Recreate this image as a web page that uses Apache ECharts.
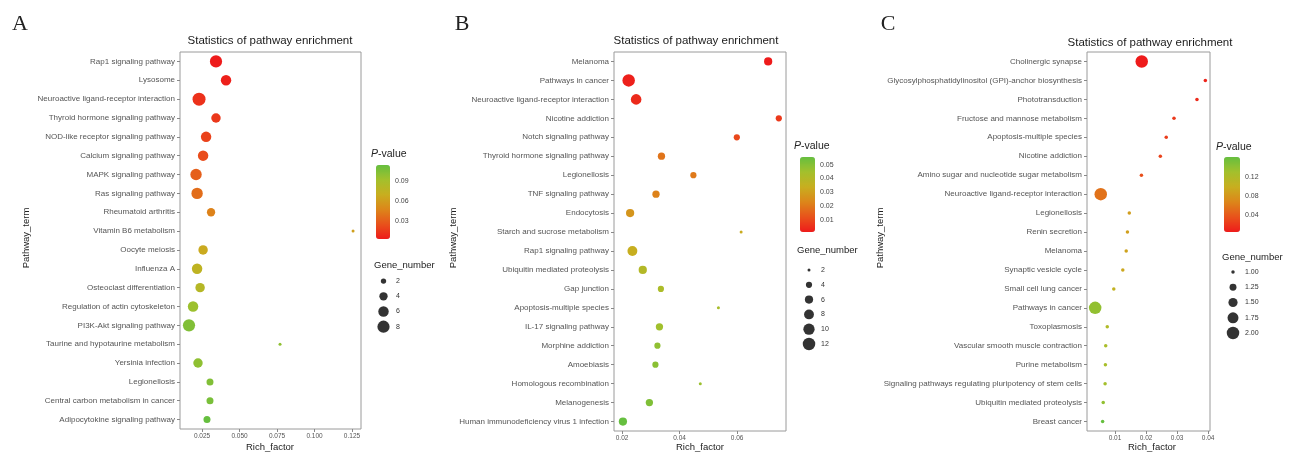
<!DOCTYPE html>
<html><head><meta charset="utf-8">
<script src="https://cdn.jsdelivr.net/npm/echarts@6/dist/echarts.min.js"></script>
<style>html,body{margin:0;padding:0;background:#fff}#c{width:1291px;height:453px}</style>
</head><body><div id="c"></div>
<script>
// ---------- DATA ----------
const termsA = ['Rap1 signaling pathway','Lysosome','Neuroactive ligand-receptor interaction','Thyroid hormone signaling pathway','NOD-like receptor signaling pathway','Calcium signaling pathway','MAPK signaling pathway','Ras signaling pathway','Rheumatoid arthritis','Vitamin B6 metabolism','Oocyte meiosis','Influenza A','Osteoclast differentiation','Regulation of actin cytoskeleton','PI3K-Akt signaling pathway','Taurine and hypotaurine metabolism','Yersinia infection','Legionellosis','Central carbon metabolism in cancer','Adipocytokine signaling pathway'];
const richA = [0.0343,0.041,0.023,0.0343,0.0277,0.0257,0.021,0.0217,0.031,0.1257,0.0257,0.0217,0.0237,0.019,0.0163,0.077,0.0223,0.0303,0.0303,0.0283];
const pA = [0.003,0.005,0.012,0.015,0.019,0.023,0.031,0.037,0.046,0.062,0.068,0.076,0.082,0.095,0.105,0.1,0.1,0.105,0.108,0.115];
const genesA = [8,6,9,5,6,6,7,7,4,1,5,6,5,6,8,1,5,3,3,3];

const termsB = ['Melanoma','Pathways in cancer','Neuroactive ligand-receptor interaction','Nicotine addiction','Notch signaling pathway','Thyroid hormone signaling pathway','Legionellosis','TNF signaling pathway','Endocytosis','Starch and sucrose metabolism','Rap1 signaling pathway','Ubiquitin mediated proteolysis','Gap junction','Apoptosis-multiple species','IL-17 signaling pathway','Morphine addiction','Amoebiasis','Homologous recombination','Melanogenesis','Human immunodeficiency virus 1 infection'];
const richB = [0.0708,0.0223,0.0249,0.0745,0.0599,0.0337,0.0448,0.0318,0.0228,0.0614,0.0236,0.0272,0.0335,0.0535,0.033,0.0323,0.0316,0.0472,0.0295,0.0203];
const pB = [0.001,0.002,0.004,0.007,0.010,0.019,0.020,0.022,0.027,0.033,0.034,0.040,0.042,0.043,0.045,0.048,0.049,0.046,0.051,0.0555];
const genesB = [6,12,9,4,4,5,4,5,6,2,8,6,4,2,5,4,4,2,5,6];

const termsC = ['Cholinergic synapse','Glycosylphosphatidylinositol (GPI)-anchor biosynthesis','Phototransduction','Fructose and mannose metabolism','Apoptosis-multiple species','Nicotine addiction','Amino sugar and nucleotide sugar metabolism','Neuroactive ligand-receptor interaction','Legionellosis','Renin secretion','Melanoma','Synaptic vesicle cycle','Small cell lung cancer','Pathways in cancer','Toxoplasmosis','Vascular smooth muscle contraction','Purine metabolism','Signaling pathways regulating pluripotency of stem cells','Ubiquitin mediated proteolysis','Breast cancer'];
const richC = [0.0186,0.0391,0.0364,0.029,0.0265,0.0246,0.0185,0.0054,0.0146,0.014,0.0136,0.0125,0.0096,0.0036,0.0075,0.007,0.0069,0.0068,0.0062,0.006];
const pC = [0.003,0.008,0.012,0.020,0.022,0.026,0.033,0.055,0.085,0.087,0.089,0.093,0.104,0.14,0.12,0.125,0.127,0.13,0.14,0.163];
const genesC = [2,1,1,1,1,1,1,2,1,1,1,1,1,2,1,1,1,1,1,1];

const xTicksA = [0.025,0.05,0.075,0.1,0.125];
const xTickLabelsA = ['0.025','0.050','0.075','0.100','0.125'];
const xTicksB = [0.02,0.04,0.06];
const xTickLabelsB = ['0.02','0.04','0.06'];
const xTicksC = [0.01,0.02,0.03,0.04];
const xTickLabelsC = ['0.01','0.02','0.03','0.04'];

const pTicksA = [0.03,0.06,0.09];
const pTicksB = [0.01,0.02,0.03,0.04,0.05];
const pTicksC = [0.04,0.08,0.12];
const pRangeA = [0.003,0.115];
const pRangeB = [0.001,0.0555];
const pRangeC = [0.003,0.163];

const geneBreaksA = [2,4,6,8];
const geneBreaksB = [2,4,6,8,10,12];
const geneBreaksC = [1,1.25,1.5,1.75,2];
const geneLabelsA = ['2','4','6','8'];
const geneLabelsB = ['2','4','6','8','10','12'];
const geneLabelsC = ['1.00','1.25','1.50','1.75','2.00'];

// ---------- STYLE / LAYOUT ----------
const FONT = 'Liberation Sans, Arial, sans-serif';
const gradient = ['#ee1b1b','#e8521b','#dc861a','#c8ae1f','#a3c02c','#66bf3f'];
const panels = [
  {terms:termsA, rich:richA, p:pA, genes:genesA, xt:xTicksA, xl:xTickLabelsA, xr:[0.0103,0.131],
   grid:{left:180,top:52,width:181,height:377}, size:{nmin:1,nmax:9,dmin:3,dmax:13},
   pt:pTicksA, pr:pRangeA, cb:{left:376,top:165,w:14,h:74},
   gb:geneBreaksA, gl:geneLabelsA, lg:{left:377,top:273.5,w:13,step:15.2},
   title:[270,41], rich_lbl:[270,447], path:[26,238], letter:[20,24], letterT:'A',
   pv:[371,154], gn:[374,265]},
  {terms:termsB, rich:richB, p:pB, genes:genesB, xt:xTicksB, xl:xTickLabelsB, xr:[0.0172,0.077],
   grid:{left:614,top:52,width:172,height:379}, size:{nmin:2,nmax:12,dmin:3,dmax:12.5},
   pt:pTicksB, pr:pRangeB, cb:{left:800,top:157,w:15,h:75},
   gb:geneBreaksB, gl:geneLabelsB, lg:{left:803,top:262.6,w:12,step:14.8},
   title:[696,41], rich_lbl:[700,447], path:[453,238], letter:[462,24], letterT:'B',
   pv:[794,146], gn:[797,250]},
  {terms:termsC, rich:richC, p:pC, genes:genesC, xt:xTicksC, xl:xTickLabelsC, xr:[0.00097,0.0406],
   grid:{left:1087,top:52,width:123,height:379}, size:{nmin:1,nmax:2,dmin:3.5,dmax:12.5},
   pt:pTicksC, pr:pRangeC, cb:{left:1224,top:157,w:16,h:75},
   gb:geneBreaksC, gl:geneLabelsC, lg:{left:1227,top:264.4,w:12,step:15.25},
   title:[1150,43], rich_lbl:[1152,447], path:[880,238], letter:[888,24], letterT:'C',
   pv:[1216,147], gn:[1222,257]}
];

function sizeFn(s){ return n => Math.sqrt(s.dmin*s.dmin + (s.dmax*s.dmax - s.dmin*s.dmin)*(n - s.nmin)/(s.nmax - s.nmin)); }

const grids=[], xAxes=[], yAxes=[], series=[], visualMaps=[], graphics=[];
panels.forEach((P,k)=>{
  const sf = sizeFn(P.size);
  // main plot
  const gi = grids.length;
  grids.push({left:P.grid.left, top:P.grid.top, width:P.grid.width, height:P.grid.height, show:true, borderColor:'#9a9a9a', borderWidth:1, backgroundColor:'#fff', outerBoundsMode:'none', containLabel:false});
  xAxes.push({type:'value', gridIndex:gi, min:P.xr[0], max:P.xr[1], axisLine:{show:false}, splitLine:{show:false},
    axisTick:{show:true, length:3, lineStyle:{color:'#888'}, customValues:P.xt},
    axisLabel:{customValues:P.xt, fontSize:6.5, color:'#555', fontFamily:FONT, margin:4,
      formatter:v=>{const i=P.xt.findIndex(t=>Math.abs(t-v)<1e-9);return i>=0?P.xl[i]:'';}}});
  yAxes.push({type:'category', gridIndex:gi, data:P.terms, inverse:true, axisLine:{show:false}, splitLine:{show:false},
    axisTick:{show:true, length:3, alignWithLabel:true, lineStyle:{color:'#888'}},
    axisLabel:{fontSize:8, color:'#555', fontFamily:FONT, margin:5, interval:0}});
  const si = series.length;
  series.push({type:'scatter', xAxisIndex:gi, yAxisIndex:gi,
    data:P.terms.map((t,i)=>[P.rich[i], t, P.p[i], P.genes[i]]),
    symbolSize:v=>sf(v[3]), itemStyle:{opacity:1}, z:3});
  visualMaps.push({type:'continuous', seriesIndex:si, dimension:2, min:P.pr[0], max:P.pr[1],
    inRange:{color:gradient}, left:P.cb.left, top:P.cb.top, itemWidth:P.cb.w, itemHeight:P.cb.h,
    padding:0, calculable:false, realtime:false, orient:'vertical', textStyle:{fontSize:1, color:'rgba(0,0,0,0)'}, text:null, show:true});
  // colorbar labels axis
  const ci = grids.length;
  grids.push({left:P.cb.left, top:P.cb.top, width:P.cb.w, height:P.cb.h, show:false, outerBoundsMode:'none'});
  xAxes.push({type:'value', gridIndex:ci, show:false, min:0, max:1});
  yAxes.push({type:'value', gridIndex:ci, min:P.pr[0], max:P.pr[1], position:'right',
    axisLine:{show:false}, splitLine:{show:false}, axisTick:{show:false},
    axisLabel:{customValues:P.pt, fontSize:7, color:'#444', fontFamily:FONT, margin:5, formatter:v=>String(Math.round(v*100)/100)}});
  // gene number legend
  const li = grids.length;
  grids.push({left:P.lg.left, top:P.lg.top, width:P.lg.w, height:P.lg.step*P.gb.length, show:false, outerBoundsMode:'none'});
  xAxes.push({type:'category', gridIndex:li, data:[''], show:false});
  yAxes.push({type:'category', gridIndex:li, data:P.gl, inverse:true, position:'right',
    axisLine:{show:false}, axisTick:{show:false}, splitLine:{show:false},
    axisLabel:{fontSize:7, color:'#333', fontFamily:FONT, margin:6}});
  series.push({type:'scatter', xAxisIndex:li, yAxisIndex:li,
    data:P.gb.map((n,i)=>[0, i, n]), symbolSize:v=>sf(v[2]), itemStyle:{color:'#000'}, silent:true});
  // texts
  graphics.push({type:'text', x:P.title[0], y:P.title[1], style:{text:'Statistics of pathway enrichment', fontSize:11.5, fontFamily:FONT, fill:'#1a1a1a', align:'center', verticalAlign:'middle'}});
  graphics.push({type:'text', x:P.rich_lbl[0], y:P.rich_lbl[1], style:{text:'Rich_factor', fontSize:9.5, fontFamily:FONT, fill:'#222', align:'center', verticalAlign:'middle'}});
  graphics.push({type:'text', x:P.path[0], y:P.path[1], rotation:Math.PI/2, style:{text:'Pathway_term', fontSize:9.5, fontFamily:FONT, fill:'#222', align:'center', verticalAlign:'middle'}});
  graphics.push({type:'text', x:P.letter[0], y:P.letter[1], style:{text:P.letterT, fontSize:22, fontFamily:'Liberation Serif, DejaVu Serif, serif', fill:'#222', align:'center', verticalAlign:'middle'}});
  graphics.push({type:'text', x:P.pv[0], y:P.pv[1], style:{text:'{i|P}-value', fontSize:10.5, fontFamily:FONT, fill:'#222', align:'left', verticalAlign:'middle', rich:{i:{fontStyle:'italic', fontSize:10.5, fontFamily:FONT, fill:'#222'}}}});
  graphics.push({type:'text', x:P.gn[0], y:P.gn[1], style:{text:'Gene_number', fontSize:9.5, fontFamily:FONT, fill:'#222', align:'left', verticalAlign:'middle'}});
});

const chart = echarts.init(document.getElementById('c'), null, {renderer:'canvas'});
chart.setOption({
  animation:false, backgroundColor:'#fff',
  textStyle:{fontFamily:FONT},
  grid:grids, xAxis:xAxes, yAxis:yAxes, series:series, visualMap:visualMaps, graphic:graphics
});
</script></body></html>
